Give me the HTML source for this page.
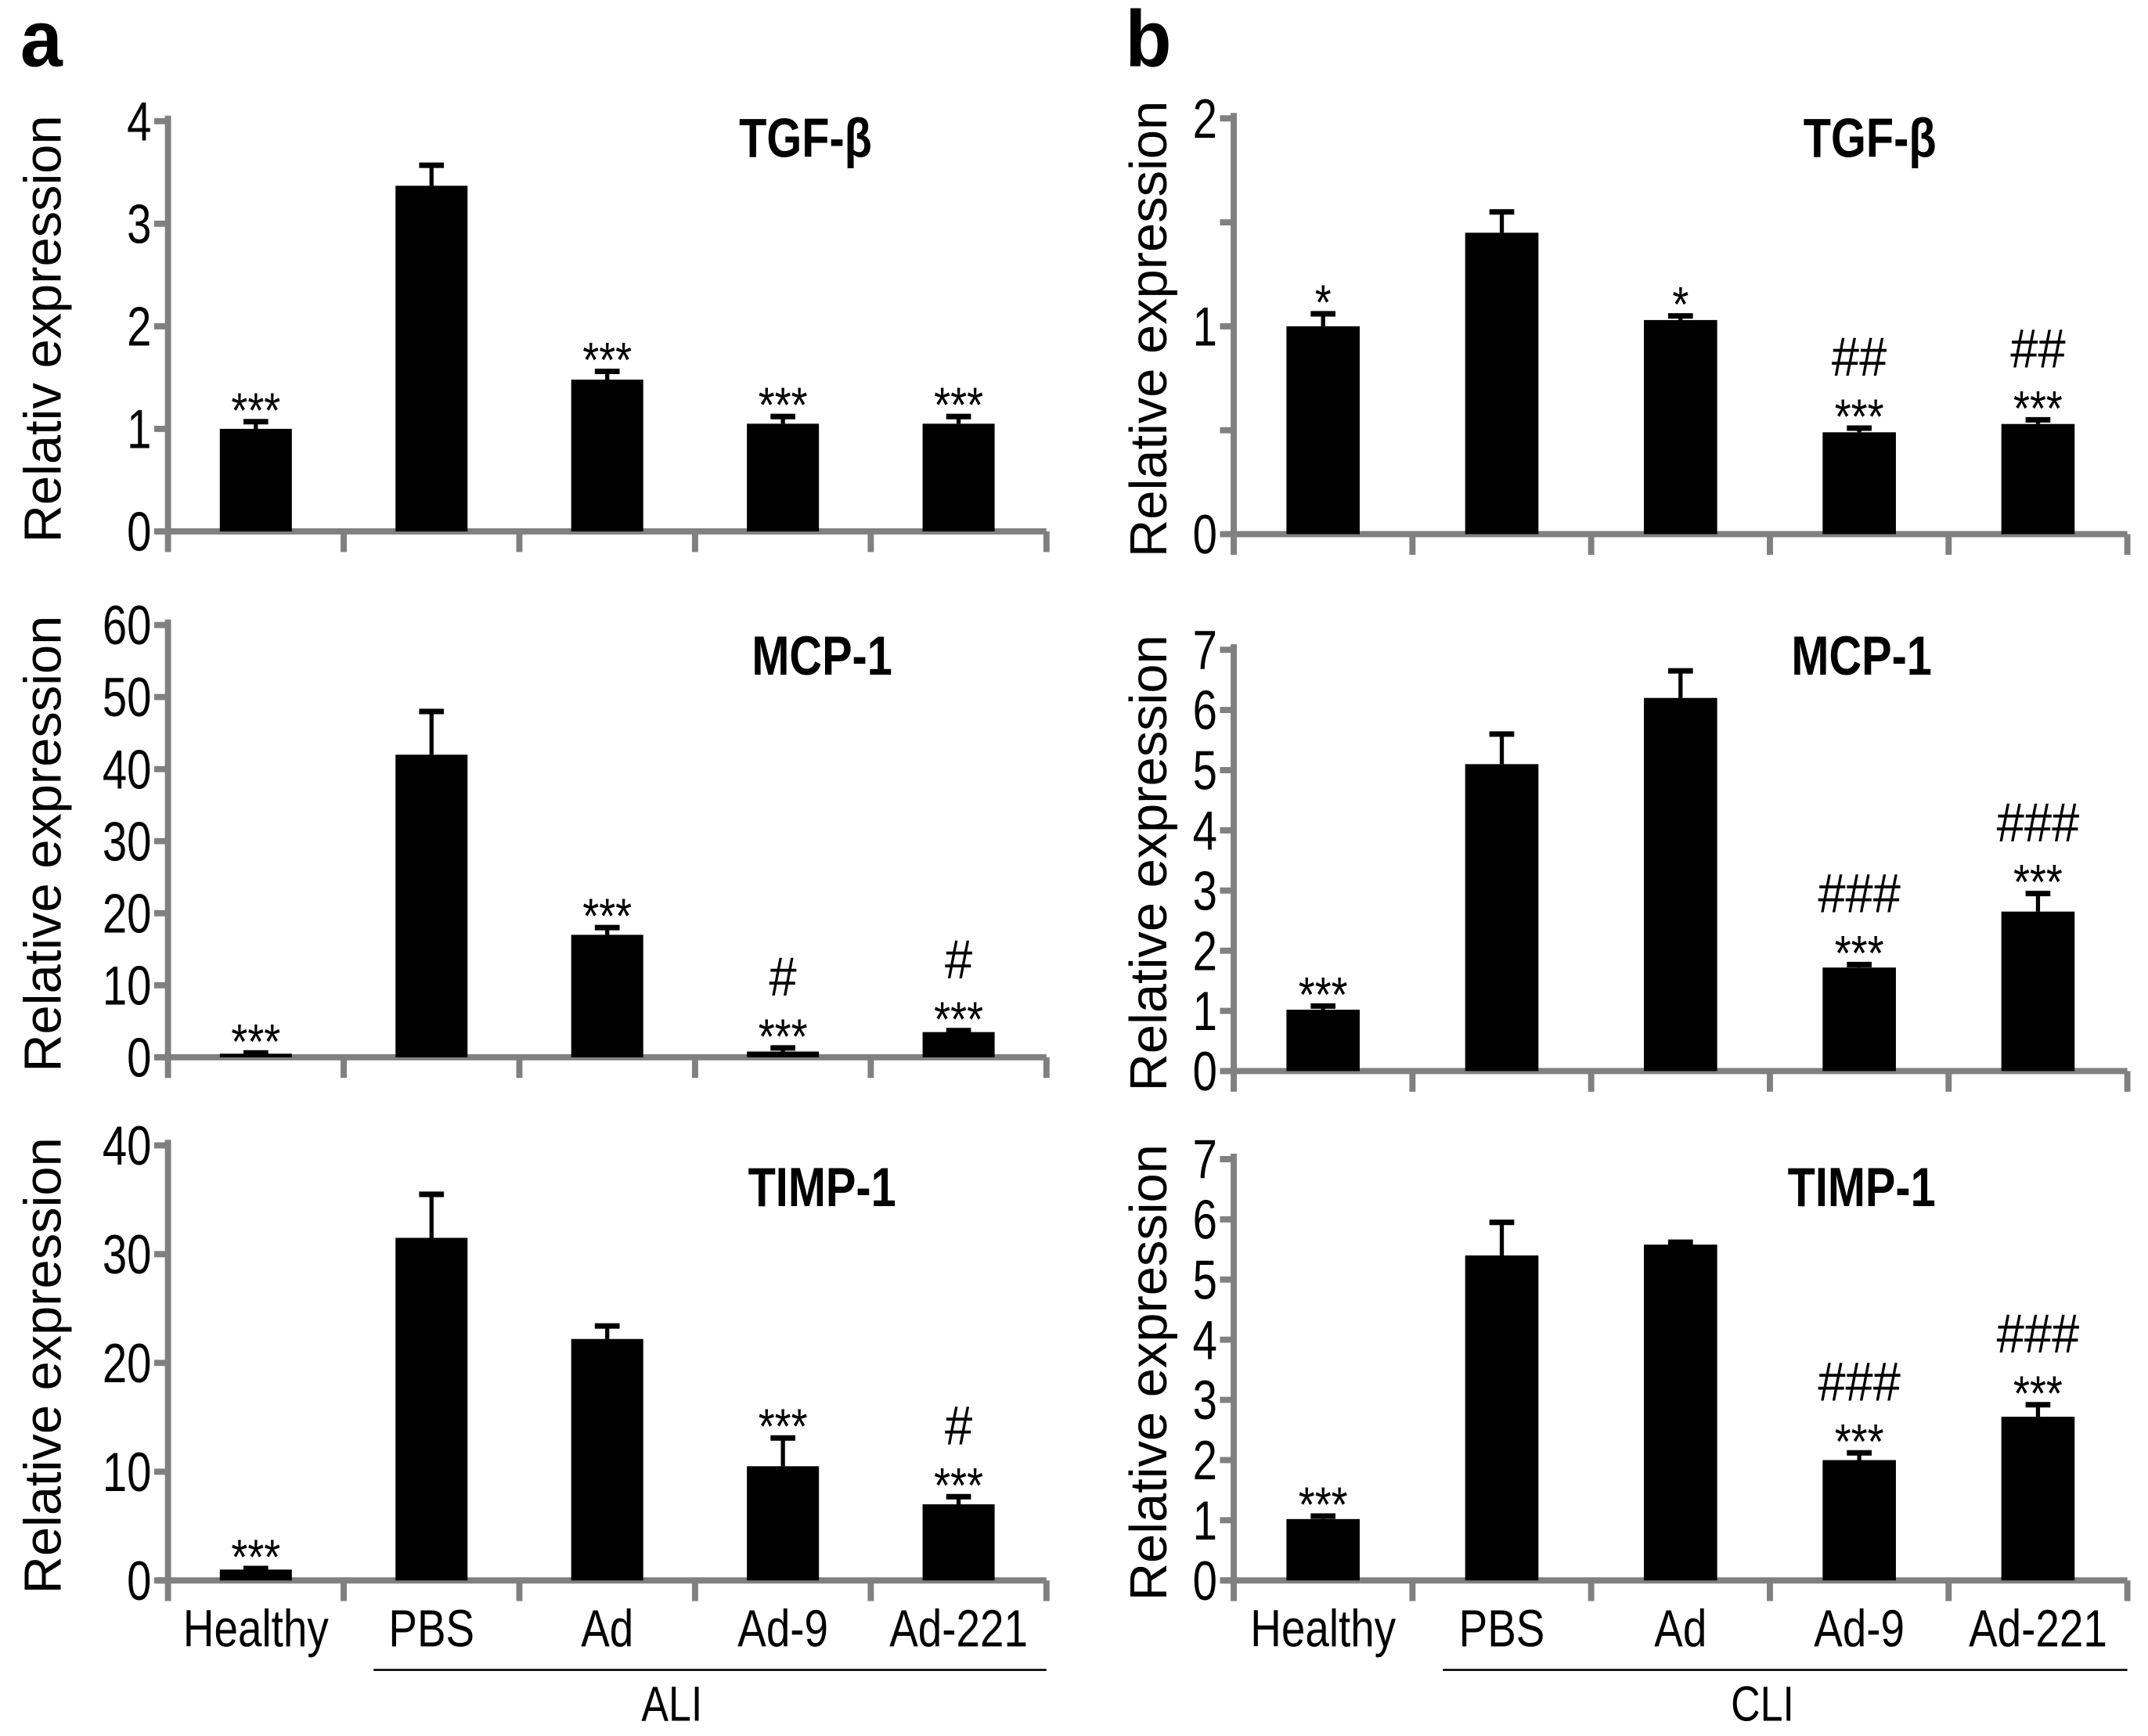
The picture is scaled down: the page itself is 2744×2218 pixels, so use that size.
<!DOCTYPE html>
<html><head><meta charset="utf-8"><style>
html,body{margin:0;padding:0;background:#fff;}
svg{display:block;font-family:"Liberation Sans",Arial,sans-serif;}
</style></head><body>
<svg id="fig" width="2744" height="2218" viewBox="0 0 1560 1261" preserveAspectRatio="none"></svg>
<script>
const categories = ["Healthy","PBS","Ad","Ad-9","Ad-221"];
// panel a (ALI)
const aTgfValues = [1.0, 3.37, 1.48, 1.05, 1.05];
const aTgfErrors = [0.07, 0.2, 0.08, 0.07, 0.07];
const aTgfTicks = ["0","1","2","3","4"];
const aTgfAnn = [["***"],[],["***"],["***"],["***"]];
const aMcpValues = [0.5, 42, 17, 0.8, 3.5];
const aMcpErrors = [0.1, 6, 1, 0.5, 0.2];
const aMcpTicks = ["0","10","20","30","40","50","60"];
const aMcpAnn = [["***"],[],["***"],["***","#"],["***","#"]];
const aTimpValues = [1, 31.5, 22.2, 10.5, 7];
const aTimpErrors = [0.1, 4, 1.2, 2.6, 0.7];
const aTimpTicks = ["0","10","20","30","40"];
const aTimpAnn = [["***"],[],[],["***"],["***","#"]];
// panel b (CLI)
const bTgfValues = [1.0, 1.45, 1.03, 0.49, 0.53];
const bTgfErrors = [0.06, 0.1, 0.02, 0.02, 0.02];
const bTgfTicks = ["0","","1","","2"];
const bTgfAnn = [["*"],[],["*"],["***","##"],["***","##"]];
const bMcpValues = [1.02, 5.1, 6.2, 1.72, 2.65];
const bMcpErrors = [0.06, 0.5, 0.45, 0.05, 0.3];
const bMcpTicks = ["0","1","2","3","4","5","6","7"];
const bMcpAnn = [["***"],[],[],["***","###"],["***","###"]];
const bTimpValues = [1.02, 5.4, 5.58, 2.0, 2.72];
const bTimpErrors = [0.05, 0.55, 0.04, 0.12, 0.2];
const bTimpTicks = ["0","1","2","3","4","5","6","7"];
const bTimpAnn = [["***"],[],[],["***","###"],["***","###"]];

const NS="http://www.w3.org/2000/svg";
const svg=document.getElementById('fig');
function mk(tag,attrs,parent){const e=document.createElementNS(NS,tag);for(const k in attrs)e.setAttribute(k,attrs[k]);(parent||svg).appendChild(e);return e;}
function txt(s,x,y,size,opts,parent){
  opts=opts||{};
  const t=mk('text',{x:0,y:0,'font-size':size,'text-anchor':opts.anchor||'middle','font-weight':opts.bold?'bold':'normal',fill:'#000',
    transform:`translate(${x},${y}) ${opts.rot?'rotate(-90)':''} scale(${opts.sx||0.85},1)`},parent);
  t.textContent=s;return t;
}

function chart(name,ax0,ax1,y0,ytop,vals,errs,ticks,ann,title,ylabel,titleX,titleY,ylX){
  const g=mk('g',{});
  
  
  const yMax=parseFloat(ticks[ticks.length-1]);
  const y=v=>y0-(v/yMax)*(y0-ytop);
  const n=categories.length;
  const bw=(ax1-ax0)/n;
  const x=i=>ax0+bw*(i+0.5);
  const ya=mk('line',{x1:ax0,y1:ytop-4,x2:ax0,y2:y0+2,stroke:'#808080','stroke-width':4.5},g);
  
  
  const xa=mk('line',{x1:ax0-8,y1:y0,x2:ax1,y2:y0,stroke:'#808080','stroke-width':4.5},g);
  
  
  for(let i=0;i<=n;i++){
    const tx=ax0+bw*i;
    mk('line',{x1:tx,y1:y0,x2:tx,y2:y0+15,stroke:'#808080','stroke-width':4.5},g);
  }
  ticks.forEach((lab,i)=>{
    const v=yMax*i/(ticks.length-1);
    const ty=y(v);
    mk('line',{x1:ax0-10,y1:ty,x2:ax0,y2:ty,stroke:'#808080','stroke-width':4.5},g);
    if(lab!==''){const t=txt(lab,ax0-12,ty+14,40,{anchor:'end',sx:0.8},g);
      
      }
  });
  vals.forEach((v,i)=>{
    const cx=x(i), w=bw*0.41;
    const top=y(v+errs[i]);
    mk('line',{x1:cx,y1:y(v),x2:cx,y2:top,stroke:'#000','stroke-width':3},g);
    mk('line',{x1:cx-9,y1:top,x2:cx+9,y2:top,stroke:'#000','stroke-width':4},g);
    const r=mk('rect',{x:cx-w/2,y:y(v),width:w,height:y0-y(v),fill:'#000'},g);
    
    
    let sb=top-4;
    ann[i].forEach((s,k)=>{
      const isHash=s[0]==='#';
      const yy=isHash? sb-42 : sb+8;
      const t=txt(s,cx,yy,isHash?40:36,{sx:isHash?0.9:0.85},g);
      
      
      sb=yy;
    });
  });
  const tt=txt(title,titleX,titleY,40,{bold:true,sx:0.82},g);
  
  
  const yl=txt(ylabel,ylX,(y0+ytop)/2+2,38,{rot:true,sx:1},g);
  
  
}
const aX0=122,aX1=760,bX0=896,bX1=1545;
chart('chart-a-tgf',aX0,aX1,386,88,aTgfValues,aTgfErrors,aTgfTicks,aTgfAnn,'TGF-β','Relativ expression',585,114,44);
chart('chart-a-mcp',aX0,aX1,768,454,aMcpValues,aMcpErrors,aMcpTicks,aMcpAnn,'MCP-1','Relative expression',597,490,44);
chart('chart-a-timp',aX0,aX1,1148,832,aTimpValues,aTimpErrors,aTimpTicks,aTimpAnn,'TIMP-1','Relative expression',597,876,44);
chart('chart-b-tgf',bX0,bX1,388,86,bTgfValues,bTgfErrors,bTgfTicks,bTgfAnn,'TGF-β','Relative expression',1358,114,847);
chart('chart-b-mcp',bX0,bX1,778,472,bMcpValues,bMcpErrors,bMcpTicks,bMcpAnn,'MCP-1','Relative expression',1352,490,847);
chart('chart-b-timp',bX0,bX1,1148,842,bTimpValues,bTimpErrors,bTimpTicks,bTimpAnn,'TIMP-1','Relative expression',1352,876,847);

[[aX0,aX1,'ALI',488],[bX0,bX1,'CLI',1280]].forEach(([x0,x1,grp,gx])=>{
  const bw=(x1-x0)/categories.length;
  categories.forEach((c,i)=>{
    const t=txt(c,x0+bw*(i+0.5),1196,38,{sx:0.82});
    
    
  });
  const l=mk('line',{x1:x0+bw*1.17,y1:1213,x2:x1,y2:1213,stroke:'#000','stroke-width':1.5});
  
  
  const gt=txt(grp,gx,1250,36,{sx:0.82});
  
  
});
const pa=txt('a',30,48,58,{bold:true,sx:0.95});


const pb=txt('b',834,48,58,{bold:true,sx:0.95});


</script>
</body></html>
